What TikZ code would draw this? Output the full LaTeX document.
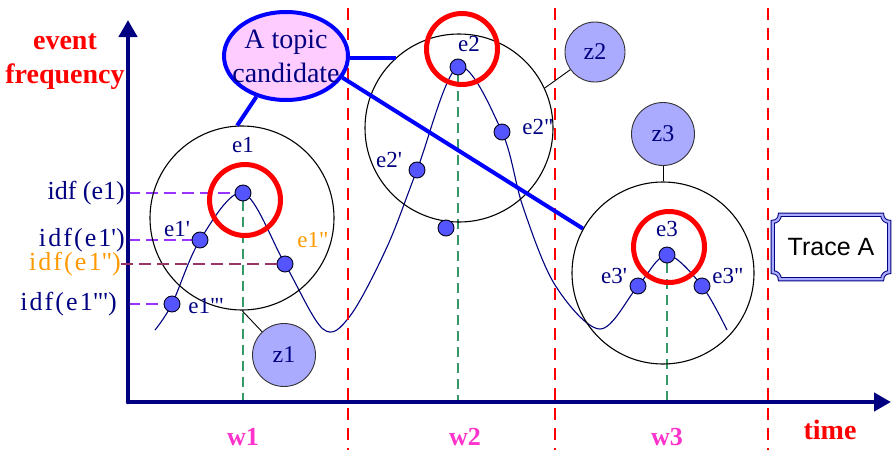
\documentclass[tikz,border=0pt]{standalone}
\usepackage{fontspec}
\setmainfont{Liberation Serif}
\setsansfont{Liberation Sans}
\newfontfamily\idffont[LetterSpace=8]{Liberation Serif}
\usepackage{tikz}
\usetikzlibrary{shapes.geometric, arrows.meta, calc, backgrounds}
\definecolor{mynavy}{RGB}{0,0,128}
\definecolor{myred}{RGB}{255,0,0}
\definecolor{mymagenta}{RGB}{255,51,204}
\definecolor{myorange}{RGB}{255,153,0}
\definecolor{mypink}{RGB}{255,204,255}
\definecolor{myblue}{RGB}{0,0,255}
\definecolor{mydot}{RGB}{85,85,255}
\definecolor{mylav}{RGB}{170,170,255}
\definecolor{mypurple}{RGB}{153,51,255}
\definecolor{mymaroon}{RGB}{153,51,102}
\definecolor{mygreen}{RGB}{51,153,102}
\newcommand{\apos}{\textquotesingle}
\newcommand{\dapos}{\textquotedbl}
\tikzset{
  axis/.style={line width=4.5pt, color=mynavy, line cap=round,
    -{Triangle[length=17pt, width=18pt]}},
  axtitle/.style={font=\fontsize{28}{34}\selectfont\bfseries, text=myred,
    align=center, inner sep=0pt},
  window/.style={dash pattern=on 12pt off 8pt, line width=1.6pt, color=myred},
  wlabel/.style={font=\fontsize{26}{28}\selectfont\bfseries, text=mymagenta,
    inner sep=0pt},
  cluster/.style={circle, draw=black, line width=1.1pt, inner sep=0pt},
  hit/.style={circle, draw=myred, line width=5pt, inner sep=0pt,
    minimum size=71pt},
  evt/.style={circle, fill=mydot, draw=black!80!mynavy, line width=0.9pt,
    inner sep=0pt, minimum size=16pt},
  evlabel/.style={font=\fontsize{23}{26}\selectfont, text=mynavy, inner sep=0pt},
  idfserif/.style={font=\fontsize{26}{28}\selectfont, text=mynavy,
    inner sep=0pt, anchor=east},
  idfmono/.style={font=\idffont\fontsize{26}{28}\selectfont, text=mynavy,
    inner sep=0pt, anchor=east},
  guide/.style={dash pattern=on 12pt off 6pt, line width=1.8pt},
  vguide/.style={dash pattern=on 10pt off 6pt, line width=1.4pt, color=mygreen},
  trend/.style={line width=1.1pt, color=mynavy},
  zone/.style={circle, fill=mylav, draw=black!80, line width=0.9pt,
    inner sep=0pt, minimum size=63pt, font=\fontsize{24}{26}\selectfont,
    text=mynavy},
  zlink/.style={line width=0.9pt, color=black},
  topic/.style={ellipse, draw=myblue, line width=4pt, fill=mypink,
    minimum width=124pt, minimum height=88pt, inner sep=0pt, align=center,
    font=\fontsize{28}{34}\selectfont, text=mynavy},
  link/.style={line width=4pt, color=myblue},
  tracebox/.style={minimum width=116pt, minimum height=64pt, inner sep=0pt,
    font=\sffamily\fontsize{25}{28}\selectfont, text=black},
  plaque/.style={draw=mynavy, double=mylav, double distance=2.2pt, line width=1pt}
}

\begin{document}
\begin{tikzpicture}[x=1pt, y=-1pt]
  \useasboundingbox (0,0) rectangle (893,455);

  % Draw axes
  \coordinate (o) at (128,402);
  \draw[axis] (o) -- (128,20) coordinate (ytop);
  \draw[axis] (o) -- (891,402) coordinate (xend);
  \node[axtitle] (freq) at (65,62) {event\\frequency};
  \node[axtitle] (time) at (830,430) {time};

  % Time windows
  \foreach \x in {348,555,768}
    \draw[window] (\x,8) -- (\x,450);
  \node[wlabel] (w1) at (243,437) {w1};
  \node[wlabel] (w2) at (465,437) {w2};
  \node[wlabel] (w3) at (667,437) {w3};

  % Clusters around the bursts
  \node[cluster, minimum size=184pt] (c1) at (242,218) {};
  \node[cluster, minimum size=188pt] (c2) at (459,128) {};
  \node[cluster, minimum size=182pt] (c3) at (663,273) {};

  % Events
  \node[evt] (e1) at (243,193) {};
  \node[evt] (e1p) at (200,240) {};
  \node[evt] (e1pp) at (285,264) {};
  \node[evt] (e1ppp) at (172,304) {};
  \node[evt] (e2) at (458,67) {};
  \node[evt] (e2p) at (417,170) {};
  \node[evt] (e2pp) at (502,132) {};
  \node[evt] (e2q) at (446,228) {};
  \node[evt] (e3) at (667,255) {};
  \node[evt] (e3p) at (638,286) {};
  \node[evt] (e3pp) at (702,286) {};

  % Frequency curve and guides
  \begin{scope}[on background layer]
    \draw[trend] plot[smooth, tension=0.55] coordinates {
      (155,330) (e1ppp) (e1p) (e1) (e1pp) (323,329) (350,316) (387,247)
      (e2p) (e2) (e2pp) (523,207) (555,285) (600,329) (e3p) (e3) (e3pp)
      (727,330)};
    \draw[vguide] (e1) -- (e1 |- o);
    \draw[vguide] (e2) -- (e2 |- o);
    \draw[vguide] (e3) -- (e3 |- o);
    \draw[guide, mypurple] (e1 -| o) -- (e1);
    \draw[guide, mypurple] (e1p -| o) -- (e1p);
    \draw[guide, mypurple] (e1ppp -| o) -- (e1ppp);
  \end{scope}

  % Peaks
  \node[hit] (h1) at (245,200) {};
  \node[hit] (h2) at (462,49) {};
  \node[hit] (h3) at (669,247) {};

  % Event labels
  \node[evlabel] (le1) at (243,145) {e1};
  \node[evlabel] (le1p) at (177,229) {e1\apos};
  \node[evlabel, text=myorange] (le1pp) at (313,240) {e1\dapos};
  \node[evlabel] (le1ppp) at (206,306) {e1\dapos\apos};
  \node[evlabel] (le2) at (469,44) {e2};
  \node[evlabel] (le2p) at (389,160) {e2\apos};
  \node[evlabel] (le2pp) at (538,127) {e2\dapos};
  \node[evlabel] (le3) at (667,229) {e3};
  \node[evlabel] (le3p) at (614,276) {e3\apos};
  \node[evlabel] (le3pp) at (728,276) {e3\dapos};

  % idf values
  \node[idfserif] (i1) at (125,193) {idf (e1)};
  \node[idfmono] (i2) at (125,240) {idf(e1\apos)};
  \node[idfmono, text=myorange] (i3) at (121,264) {idf(e1\dapos)};
  \node[idfmono] (i4) at (117,304) {idf(e1\dapos\apos)};
  \draw[guide, mymaroon] (i3.east) -- (e1pp);

  % Zones
  \node[zone] (z1) at (284,355) {z1};
  \node[zone, minimum size=60pt] (z2) at (595,52) {z2};
  \node[zone] (z3) at (663,134) {z3};
  \draw[zlink] (c1.south) -- (z1);
  \draw[zlink] (c2.25) -- (z2);
  \draw[zlink] (z3) -- (c3);

  % Topic candidate
  \node[topic] (topic) at (286,56) {\makebox[0pt]{A topic}\\\makebox[0pt]{candidate}};
  \draw[link] (topic.234) -- (c1.93);
  \draw[link] (topic.east |- c2.132) -- (c2.132);
  \draw[link] (topic.339) -- (c3.151);

  % Trace label
  \node[tracebox] (trace) at (831,247) {Trace A};
  \draw[plaque] let \p1=(trace.north west), \p2=(trace.south east) in
    (\x1+7pt,\y1) -- (\x2-7pt,\y1)
    .. controls (\x2-7pt,\y1-3.9pt) and (\x2-3.9pt,\y1-7pt) .. (\x2,\y1-7pt)
    -- (\x2,\y2+7pt)
    .. controls (\x2-3.9pt,\y2+7pt) and (\x2-7pt,\y2+3.9pt) .. (\x2-7pt,\y2)
    -- (\x1+7pt,\y2)
    .. controls (\x1+7pt,\y2+3.9pt) and (\x1+3.9pt,\y2+7pt) .. (\x1,\y2+7pt)
    -- (\x1,\y1-7pt)
    .. controls (\x1+3.9pt,\y1-7pt) and (\x1+7pt,\y1-3.9pt) .. cycle;
\end{tikzpicture}
\end{document}
